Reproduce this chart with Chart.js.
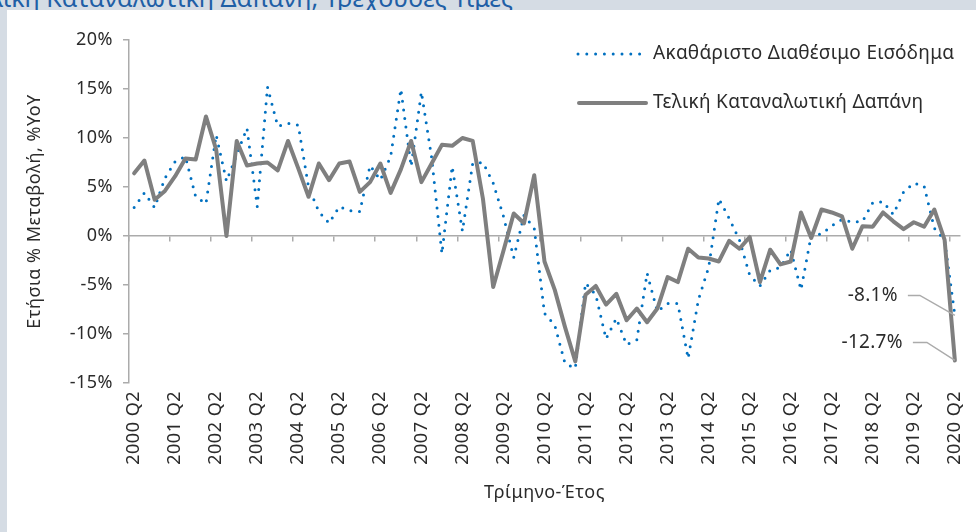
<!DOCTYPE html>
<html>
<head>
<meta charset="utf-8">
<script src="https://cdn.jsdelivr.net/npm/chart.js@4.4.0/dist/chart.umd.min.js"></script>
<style>
html,body{margin:0;padding:0;width:976px;height:532px;overflow:hidden;background:#D5DCE4;}
#title{position:absolute;left:-34px;top:-15px;font-family:"Noto Sans";font-size:25px;line-height:25px;color:#1F5FA6;white-space:nowrap;z-index:1;}
#panel{position:absolute;left:7px;top:10px;right:0;bottom:0;background:#fff;z-index:2;}
#wrap{position:absolute;left:0;top:0;width:976px;height:532px;z-index:3;}
</style>
</head>
<body>
<div id="title">Τελική Καταναλωτική Δαπάνη, Τρέχουσες Τιμές</div>
<div id="panel"></div>
<div id="wrap"><canvas id="c" width="976" height="532"></canvas></div>
<script>
// ---- Data ----
const quarters = [
 "2000 Q2","2000 Q3","2000 Q4","2001 Q1","2001 Q2","2001 Q3","2001 Q4","2002 Q1","2002 Q2","2002 Q3",
 "2002 Q4","2003 Q1","2003 Q2","2003 Q3","2003 Q4","2004 Q1","2004 Q2","2004 Q3","2004 Q4","2005 Q1",
 "2005 Q2","2005 Q3","2005 Q4","2006 Q1","2006 Q2","2006 Q3","2006 Q4","2007 Q1","2007 Q2","2007 Q3",
 "2007 Q4","2008 Q1","2008 Q2","2008 Q3","2008 Q4","2009 Q1","2009 Q2","2009 Q3","2009 Q4","2010 Q1",
 "2010 Q2","2010 Q3","2010 Q4","2011 Q1","2011 Q2","2011 Q3","2011 Q4","2012 Q1","2012 Q2","2012 Q3",
 "2012 Q4","2013 Q1","2013 Q2","2013 Q3","2013 Q4","2014 Q1","2014 Q2","2014 Q3","2014 Q4","2015 Q1",
 "2015 Q2","2015 Q3","2015 Q4","2016 Q1","2016 Q2","2016 Q3","2016 Q4","2017 Q1","2017 Q2","2017 Q3",
 "2017 Q4","2018 Q1","2018 Q2","2018 Q3","2018 Q4","2019 Q1","2019 Q2","2019 Q3","2019 Q4","2020 Q1",
 "2020 Q2"
];
const xTickLabels = ["2000 Q2","2001 Q2","2002 Q2","2003 Q2","2004 Q2","2005 Q2","2006 Q2","2007 Q2",
 "2008 Q2","2009 Q2","2010 Q2","2011 Q2","2012 Q2","2013 Q2","2014 Q2","2015 Q2","2016 Q2","2017 Q2",
 "2018 Q2","2019 Q2","2020 Q2"];
const yTickValues = [-15, -10, -5, 0, 5, 10, 15, 20];
const seriesNames = ["Ακαθάριστο Διαθέσιμο Εισόδημα", "Τελική Καταναλωτική Δαπάνη"];
const incomeGrowth = [
 2.9, 4.4, 2.9, 5.9, 7.6, 8.1, 4.0, 3.3, 10.3, 5.6,
 8.3, 11.0, 3.0, 15.2, 11.2, 11.5, 11.3, 5.0, 2.5, 1.3,
 3.0, 2.6, 2.5, 7.2, 5.7, 8.1, 15.0, 7.1, 14.7, 8.0,
 -1.8, 7.1, 0.5, 7.4, 7.5, 5.4, 2.0, -2.2, 2.1, 0.8,
 -7.9, -9.1, -13.0, -13.5, -4.8, -6.0, -10.5, -8.4, -11.1, -10.6,
 -3.8, -7.7, -6.9, -6.9, -12.5, -6.5, -3.2, 3.8, 1.8, -0.4,
 -4.0, -5.1, -3.5, -3.2, -1.4, -5.5, 0.1, 0.2, 1.05, 1.7,
 1.4, 1.5, 3.4, 3.5, 2.2, 4.5, 5.4, 5.1, 0.8, -0.4,
 -8.1
];
const consumptionGrowth = [
 6.4, 7.7, 3.7, 4.6, 6.1, 7.9, 7.8, 12.2, 8.8, 0.0,
 9.7, 7.2, 7.4, 7.5, 6.7, 9.7, 6.9, 4.0, 7.4, 5.7,
 7.4, 7.6, 4.5, 5.5, 7.4, 4.4, 6.8, 9.7, 5.5, 7.4,
 9.3, 9.2, 10.0, 9.7, 3.8, -5.2, -1.5, 2.3, 1.3, 6.2,
 -2.6, -5.5, -9.3, -12.8, -6.0, -5.1, -7.0, -5.9, -8.6, -7.4,
 -8.8, -7.4, -4.2, -4.7, -1.3, -2.2, -2.3, -2.6, -0.5, -1.3,
 -0.1, -4.7, -1.4, -2.9, -2.6, 2.4, -0.2, 2.7, 2.4, 2.0,
 -1.3, 1.0, 0.95, 2.4, 1.5, 0.7, 1.4, 0.95, 2.7, -0.4,
 -12.7
];
const xTitle = "Τρίμηνο-Έτος";
const yTitle = "Ετήσια % Μεταβολή, %YoY";

// ---- Styles ----
const BLUE = "#0070C0";
const GRAY = "#7F7F7F";
const AXIS = "#ABABAB";
const TEXT = "#2B2B2B";
const FONT = "'Noto Sans', sans-serif";
Chart.defaults.font.family = FONT;

const spacing = {
  id: "spacing",
  beforeUpdate(chart) { chart.ctx.letterSpacing = "0.5px"; },
  beforeDraw(chart) { chart.ctx.letterSpacing = "0.5px"; }
};

const overlay = {
  id: "overlay",
  afterDraw(chart) {
    const ctx = chart.ctx;
    ctx.save();
    // legend
    ctx.strokeStyle = BLUE; ctx.lineWidth = 3; ctx.lineCap = "round"; ctx.setLineDash([0, 8.8]);
    ctx.beginPath(); ctx.moveTo(578, 54); ctx.lineTo(641, 54); ctx.stroke();
    ctx.setLineDash([]); ctx.strokeStyle = GRAY; ctx.lineWidth = 4;
    ctx.beginPath(); ctx.moveTo(579, 103); ctx.lineTo(646, 103); ctx.stroke();
    ctx.letterSpacing = "0.3px";
    ctx.fillStyle = TEXT; ctx.font = "19px " + FONT; ctx.textBaseline = "middle"; ctx.textAlign = "left";
    ctx.fillText(seriesNames[0], 653, 54);
    ctx.fillText(seriesNames[1], 653, 103);
    // end-value annotations
    const specs = [
      {ds: 0, dy: -20, elbow: 35, start: 47},
      {ds: 1, dy: -18, elbow: 28, start: 42}
    ];
    ctx.font = "19px " + FONT; ctx.textAlign = "right";
    specs.forEach(s => {
      const meta = chart.getDatasetMeta(s.ds);
      const p = meta.data[meta.data.length - 1];
      const val = chart.data.datasets[s.ds].data[meta.data.length - 1];
      const ty = p.y + s.dy;
      ctx.fillStyle = TEXT;
      ctx.fillText(val.toFixed(1) + "%", p.x - s.start - 10, ty);
      ctx.strokeStyle = AXIS; ctx.lineWidth = 1.5; ctx.lineCap = "butt";
      ctx.beginPath(); ctx.moveTo(p.x - s.start, ty); ctx.lineTo(p.x - s.elbow, ty); ctx.lineTo(p.x, p.y); ctx.stroke();
    });
    ctx.restore();
  }
};

new Chart(document.getElementById("c"), {
  type: "line",
  data: {
    labels: quarters,
    datasets: [
      {label: seriesNames[0], data: incomeGrowth, xAxisID: "x", yAxisID: "y",
       borderColor: BLUE, borderWidth: 3, borderDash: [0, 8.6], borderCapStyle: "round",
       pointRadius: 0, fill: false, tension: 0, order: 2},
      {label: seriesNames[1], data: consumptionGrowth, xAxisID: "x", yAxisID: "y",
       borderColor: GRAY, borderWidth: 4, borderJoinStyle: "round", borderCapStyle: "round",
       pointRadius: 0, fill: false, tension: 0, order: 1}
    ]
  },
  options: {
    responsive: false, animation: false, events: [],
    layout: {padding: {top: 40, right: 16, left: 0, bottom: 0}},
    plugins: {legend: {display: false}, tooltip: {enabled: false}},
    scales: {
      x: {
        type: "category", position: "bottom", offset: true,
        grid: {display: false, drawTicks: false}, border: {display: false},
        ticks: {autoSkip: false, maxRotation: 90, minRotation: 90, padding: 8, color: TEXT,
                font: {size: 18},
                callback: (v, i) => xTickLabels.includes(quarters[i]) ? quarters[i] : ""},
        title: {display: true, text: xTitle, color: TEXT, font: {size: 18}, padding: {top: 0, bottom: 28}},
        afterFit: s => { s.height = 149; s.paddingLeft = 0; s.paddingRight = 0; }
      },
      x0: {
        type: "category", axis: "x", position: {y: 0}, offset: true,
        grid: {offset: true, drawOnChartArea: false, drawTicks: true, tickLength: 5, lineWidth: 1.5,
               color: c => (c.index !== undefined && c.index % 4 === 0) ? AXIS : "rgba(0,0,0,0)"},
        border: {display: true, color: AXIS, width: 1.5},
        ticks: {display: false, autoSkip: false},
        afterFit: s => { s.height = 0; s.paddingLeft = 0; s.paddingRight = 0; }
      },
      y: {
        position: "left", min: -15, max: 20,
        afterBuildTicks: s => { s.ticks = yTickValues.map(v => ({value: v})); },
        grid: {drawOnChartArea: false, drawTicks: true, tickLength: 6, color: AXIS, lineWidth: 1.5},
        border: {display: true, color: AXIS, width: 1.5},
        ticks: {padding: 10, color: TEXT, font: {size: 18}, callback: v => v + "%"},
        title: {display: true, text: yTitle, color: TEXT, font: {size: 18}, padding: {top: 24, bottom: 0}},
        afterFit: s => { s.width = 129; }
      }
    }
  },
  plugins: [spacing, overlay]
});
</script>
</body>
</html>
